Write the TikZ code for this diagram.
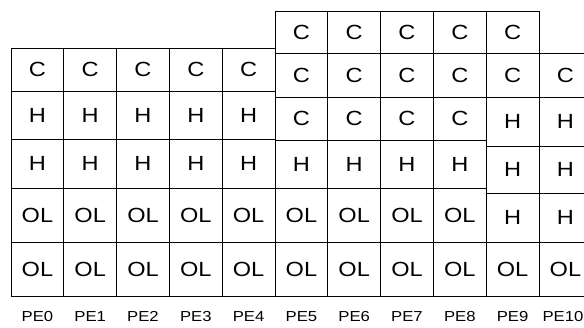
\documentclass[tikz,border=0pt]{standalone}
\usepackage{fontspec}
\usepackage{tikz}
\usetikzlibrary{positioning}
\newfontfamily\cellfont[FakeStretch=1.15]{Liberation Sans}

\begin{document}
\begin{tikzpicture}[x=1pt, y=-1pt, node distance=0pt,
    cell/.style={rectangle, draw, line width=0.9pt, outer sep=0pt, inner sep=0pt,
      minimum width=52.8pt, font=\cellfont\fontsize{20.5}{21}\selectfont},
    pe/.style={anchor=base, inner sep=0pt, font=\cellfont\fontsize{14.5}{15}\selectfont}]
    \useasboundingbox (0,0) rectangle (584,327);
    \clip (0,0) rectangle (584,327);
    \foreach \i in {0,...,4} {
      \node[cell, minimum height=43pt] (p\i-1) at (37.4+52.8*\i, 69.5) {C};
      \node[cell, minimum height=48pt] (p\i-2) [below=of p\i-1] {H};
      \node[cell, minimum height=49pt] (p\i-3) [below=of p\i-2] {H};
      \node[cell, minimum height=54pt] (p\i-4) [below=of p\i-3] {OL};
      \node[cell, minimum height=54pt] (p\i-5) [below=of p\i-4] {OL};
    }
    \foreach \i in {5,...,8} {
      \node[cell, minimum height=42pt] (p\i-1) at (37.4+52.8*\i, 32) {C};
      \node[cell, minimum height=44pt] (p\i-2) [below=of p\i-1] {C};
      \node[cell, minimum height=43pt] (p\i-3) [below=of p\i-2] {C};
      \node[cell, minimum height=48pt] (p\i-4) [below=of p\i-3] {H};
      \node[cell, minimum height=54pt] (p\i-5) [below=of p\i-4] {OL};
      \node[cell, minimum height=54pt] (p\i-6) [below=of p\i-5] {OL};
    }
    \node[cell, minimum height=42pt] (p9-1) at (512.6, 32) {C};
    \node[cell, minimum height=44pt] (p9-2) [below=of p9-1] {C};
    \node[cell, minimum height=49pt] (p9-3) [below=of p9-2] {H};
    \node[cell, minimum height=47pt] (p9-4) [below=of p9-3] {H};
    \node[cell, minimum height=49pt] (p9-5) [below=of p9-4] {H};
    \node[cell, minimum height=54pt] (p9-6) [below=of p9-5] {OL};
    \node[cell, minimum height=44pt] (p10-1) at (565.4, 75) {C};
    \node[cell, minimum height=49pt] (p10-2) [below=of p10-1] {H};
    \node[cell, minimum height=47pt] (p10-3) [below=of p10-2] {H};
    \node[cell, minimum height=49pt] (p10-4) [below=of p10-3] {H};
    \node[cell, minimum height=54pt] (p10-5) [below=of p10-4] {OL};
    \foreach \i in {0,...,9}
      \node[pe] (pe\i) at (37.4+52.8*\i, 321.2) {PE\i};
    \node[pe] (pe10) at (563, 321.2) {PE10};
  \end{tikzpicture}
\end{document}
